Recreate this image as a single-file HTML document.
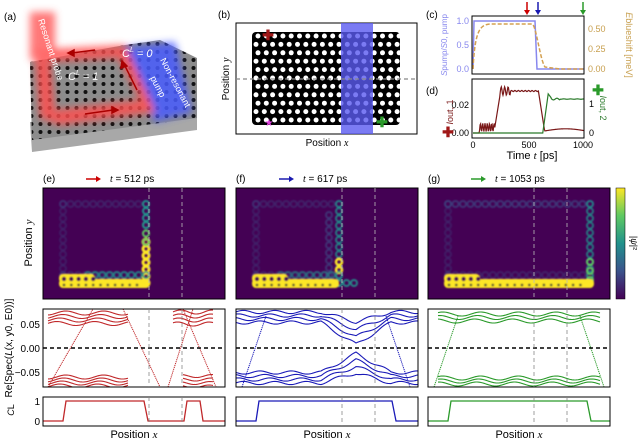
<!DOCTYPE html>
<html><head><meta charset="utf-8"><style>
html,body{margin:0;padding:0;background:#fff;}
svg{display:block;font-family:"Liberation Sans",sans-serif;}
</style></head><body>
<svg id="s" width="640" height="443" viewBox="0 0 640 443" xmlns="http://www.w3.org/2000/svg">
<defs>
<filter id="bl" x="-30%" y="-30%" width="160%" height="160%"><feGaussianBlur stdDeviation="4"/></filter>
<filter id="hb"><feGaussianBlur stdDeviation="0.7"/></filter>
<linearGradient id="cb" x1="0" y1="1" x2="0" y2="0">
<stop offset="0" stop-color="#440154"/><stop offset="0.25" stop-color="#3b528b"/><stop offset="0.5" stop-color="#21918c"/><stop offset="0.75" stop-color="#5ec962"/><stop offset="1" stop-color="#fde725"/></linearGradient>
<pattern id="hx" width="9" height="8" patternUnits="userSpaceOnUse"><circle cx="4.5" cy="4" r="2" fill="#111"/></pattern>
</defs>

<!-- (a) -->
<text x="4" y="20" font-size="10">(a)</text>
<polygon points="30,122 197,108 197,130 32,152" fill="#a8a8a8"/>
<polygon points="30,62 125,45 160,40 197,58 197,118 32,140" fill="#8c8c8c"/>
<polygon points="30,62 125,45 160,40 197,58 197,118 32,140" fill="url(#hx)"/>
<g filter="url(#bl)" opacity="0.85">
<polygon points="120,48 175,42 192,112 155,122" fill="#4a5cff"/>
<rect x="30" y="12" width="25" height="48" fill="#ff6060"/>
<polygon points="30,50 125,45 155,112 60,125 40,118 35,60 50,60 55,110 140,100 118,58 48,62" fill="#ff5050"/>
</g>
<text x="0" y="0" font-size="9" fill="#fff" transform="translate(38,20) rotate(72)">Resonant probe</text>
<text x="0" y="0" font-size="9" fill="#fff" transform="translate(160,60) rotate(62)">Non-resonant</text>
<text x="0" y="0" font-size="9" fill="#fff" transform="translate(150,78) rotate(62)">pump</text>
<text x="68" y="80" font-size="11" fill="#fff" font-style="italic">C<tspan font-size="7" dy="-5">L</tspan><tspan dy="5"> = 1</tspan></text>
<text x="122" y="57" font-size="11" fill="#fff" font-style="italic">C<tspan font-size="7" dy="-5">L</tspan><tspan dy="5"> = 0</tspan></text>
<g stroke="#a00" stroke-width="1.5" fill="#a00">
<line x1="95" y1="50" x2="72" y2="53"/><polygon points="68,53 74,50 74,56"/>
<line x1="85" y1="114" x2="113" y2="110"/><polygon points="118,110 112,107 112,113"/>
<line x1="137" y1="90" x2="125" y2="66"/><polygon points="122,61 121,68 127,66"/>
</g>

<!-- (b) -->
<text x="218" y="18" font-size="10">(b)</text>
<rect x="236" y="23" width="181" height="111" fill="#fff" stroke="#000" stroke-width="1"/>
<rect x="252" y="32" width="148" height="93" rx="4" fill="#000"/>
<g id="bdots"></g>
<rect x="341" y="23" width="32" height="111" fill="#5a5af0" opacity="0.8"/>
<line x1="236" y1="79" x2="417" y2="79" stroke="#888" stroke-width="1.3" stroke-dasharray="4,3"/>
<text x="268" y="40" font-size="14" fill="#a01818" text-anchor="middle" font-weight="bold">✚</text>
<text x="382" y="127" font-size="14" fill="#2a9a2a" text-anchor="middle" font-weight="bold">✚</text>
<text x="269" y="126" font-size="10" fill="#e040e0" text-anchor="middle">★</text>
<text x="327" y="146" font-size="10" text-anchor="middle">Position <tspan font-style="italic" font-family="Liberation Serif">x</tspan></text>
<text x="0" y="0" font-size="10" text-anchor="middle" transform="translate(229,79) rotate(-90)">Position <tspan font-style="italic" font-family="Liberation Serif">y</tspan></text>

<!-- (c) -->
<text x="426" y="18" font-size="10">(c)</text>
<g stroke-width="1.5">
<line x1="527" y1="2" x2="527" y2="11" stroke="#c00"/><polygon points="524,10 530,10 527,15" fill="#c00"/>
<line x1="538" y1="2" x2="538" y2="11" stroke="#1a1ab0"/><polygon points="535,10 541,10 538,15" fill="#1a1ab0"/>
<line x1="583" y1="2" x2="583" y2="11" stroke="#2a9a2a"/><polygon points="580,10 586,10 583,15" fill="#2a9a2a"/>
</g>
<polyline points="473,69 474,21 535,21 537,69 584,69" fill="none" stroke="#8888ee" stroke-width="1.5"/>
<path d="M473,69 C475,30 480,25 490,24 L532,24 C536,24 540,60 545,67 L560,69 L584,69" fill="none" stroke="#d4a050" stroke-width="1.5" stroke-dasharray="4,2"/>
<rect x="472" y="16" width="112" height="58" fill="none" stroke="#000"/>
<g font-size="9" fill="#8888ee" text-anchor="end"><text x="469" y="24">1.0</text><text x="469" y="48">0.5</text><text x="469" y="72">0.0</text></g>
<g font-size="9" fill="#c8a050"><text x="588" y="32">0.50</text><text x="588" y="52">0.25</text><text x="588" y="72">0.00</text></g>
<text x="0" y="0" font-size="8" fill="#8888ee" text-anchor="middle" transform="translate(447,45) rotate(-90)"><tspan font-style="italic">S</tspan>pump/<tspan font-style="italic">S</tspan>0, pump</text>
<text x="0" y="0" font-size="9" fill="#c8a050" text-anchor="middle" transform="translate(626,45) rotate(90)"><tspan font-style="italic">E</tspan>blueshift [meV]</text>

<!-- (d) -->
<text x="426" y="94" font-size="10">(d)</text>
<polyline id="d1" fill="none" stroke="#7a1818" stroke-width="1.2" points=""/>
<polyline id="d2" fill="none" stroke="#2a7a2a" stroke-width="1.2" points=""/>
<rect x="472" y="79" width="112" height="59" fill="none" stroke="#000"/>
<g font-size="9" text-anchor="end"><text x="469" y="108">0.02</text><text x="469" y="136">0.00</text></g>
<g font-size="9"><text x="589" y="107">1</text><text x="589" y="136">0</text></g>
<g font-size="9" text-anchor="middle"><text x="473" y="148">0</text><text x="529" y="148">500</text><text x="583" y="148">1000</text></g>
<text x="532" y="159" font-size="11" text-anchor="middle">Time <tspan font-style="italic" font-family="Liberation Serif">t</tspan> [ps]</text>
<text x="0" y="0" font-size="9" fill="#7a1818" text-anchor="middle" transform="translate(453,112) rotate(-90)"><tspan font-style="italic">I</tspan>out, 1</text>
<text x="0" y="0" font-size="9" fill="#2a7a2a" text-anchor="middle" transform="translate(600,108) rotate(90)"><tspan font-style="italic">I</tspan>out, 2</text>
<text x="448" y="137" font-size="14" fill="#a01818" text-anchor="middle" font-weight="bold">✚</text>
<text x="598" y="95" font-size="14" fill="#2a9a2a" text-anchor="middle" font-weight="bold">✚</text>

<!-- bottom titles -->
<g font-size="10">
<text x="43" y="182">(e)</text><text x="236" y="182">(f)</text><text x="428" y="182">(g)</text>
<text x="110" y="182"><tspan font-style="italic" font-family="Liberation Serif">t</tspan> = 512 ps</text>
<text x="303" y="182"><tspan font-style="italic" font-family="Liberation Serif">t</tspan> = 617 ps</text>
<text x="495" y="182"><tspan font-style="italic" font-family="Liberation Serif">t</tspan> = 1053 ps</text>
</g>
<g stroke-width="1.5">
<line x1="86" y1="179" x2="96" y2="179" stroke="#c00"/><polygon points="96,176 101,179 96,182" fill="#c00"/>
<line x1="279" y1="179" x2="289" y2="179" stroke="#1a1ab0"/><polygon points="289,176 294,179 289,182" fill="#1a1ab0"/>
<line x1="471" y1="179" x2="481" y2="179" stroke="#2a9a2a"/><polygon points="481,176 486,179 481,182" fill="#2a9a2a"/>
</g>
<g id="panels"></g>
<rect x="616" y="188" width="9" height="111" fill="url(#cb)" stroke="#000" stroke-width="0.5"/>
<text x="0" y="0" font-size="9" text-anchor="middle" transform="translate(631,243) rotate(90)">|<tspan font-style="italic">ψ</tspan>|²</text>
<text x="0" y="0" font-size="11" text-anchor="middle" transform="translate(32,243) rotate(-90)">Position <tspan font-style="italic" font-family="Liberation Serif">y</tspan></text>
<text x="0" y="0" font-size="10" text-anchor="middle" transform="translate(12,348) rotate(-90)">Re[Spec(<tspan font-style="italic">L</tspan>(x, y0, E0))]</text>
<text x="0" y="0" font-size="9" text-anchor="middle" transform="translate(14,410) rotate(-90)"><tspan font-style="italic">C</tspan>L</text>
<g font-size="10" text-anchor="end"><text x="40" y="328">0.05</text><text x="40" y="352">0.00</text><text x="40" y="376">−0.05</text><text x="40" y="405">1</text><text x="40" y="425">0</text></g>
<g font-size="11" text-anchor="middle">
<text x="134" y="438">Position <tspan font-style="italic" font-family="Liberation Serif">x</tspan></text>
<text x="327" y="438">Position <tspan font-style="italic" font-family="Liberation Serif">x</tspan></text>
<text x="519" y="438">Position <tspan font-style="italic" font-family="Liberation Serif">x</tspan></text>
</g>
</svg>
<script>
var NS="http://www.w3.org/2000/svg";
function el(p,t,a){var e=document.createElementNS(NS,t);for(var k in a)e.setAttribute(k,a[k]);p.appendChild(e);return e;}
var bd=document.getElementById("bdots");
for(var r=0;r<11;r++)for(var c=0;c<18;c++){el(bd,"circle",{cx:256+c*8.3+(r%2?0:2),cy:36+r*8.4,r:2.5,fill:"#fff"});}
var p1=[],p2=[];
function X(t){return 473+t*0.109;}
for(var t=0;t<=1020;t+=5){var v;
 if(t<60)v=0;else if(t<200)v=0.004+0.003*Math.sin(t*0.3);else if(t<250)v=0.004+(t-200)/50*0.024;else if(t<600)v=0.030+0.002*Math.sin(t*0.2)*(t<350?1.5:0.2);else if(t<660)v=0.030-(t-600)/60*0.030;else v=0.0015*Math.sin((t-660)/120)+0.0015;
 p1.push(X(t)+","+(133-v/0.02*28));
 var w;if(t<640)w=0;else if(t<690)w=(t-640)/50*1.35;else if(t<720)w=1.35-(t-690)/30*0.15;else w=1.17+0.03*Math.sin(t*0.1)*(t<800?1:0.2);
 p2.push(X(t)+","+(133-w*29));}
document.getElementById("d1").setAttribute("points",p1.join(" "));
document.getElementById("d2").setAttribute("points",p2.join(" "));
var P=document.getElementById("panels");
var cols=["#c0282a","#1a1ab8","#2a9a2a"];
var offs=[43,236,428];
function chain(g,x1,y1,x2,y2,col,op,w){var L=Math.hypot(x2-x1,y2-y1),n=Math.max(1,Math.round(L/7.3));
 for(var i=0;i<=n;i++){var x=x1+(x2-x1)*i/n,y=y1+(y2-y1)*i/n;el(g,"circle",{cx:x,cy:y,r:3,fill:"none",stroke:col,"stroke-width":w||2,opacity:op});}}
function wave(g,x1,x2,yb,amp,per,ph,col,sw){var pts=[];for(var x=x1;x<=x2;x+=1){pts.push(x+","+(yb+amp*Math.sin((x+ph)/per)));}el(g,"polyline",{points:pts.join(" "),fill:"none",stroke:col,"stroke-width":sw||1.1});}
for(var k=0;k<3;k++){
 var o=offs[k],col=cols[k];var g=el(P,"g",{});
 el(g,"rect",{x:o,y:188,width:182,height:111,fill:"#440154"});
 var hg=el(g,"g",{filter:"url(#hb)"});
 var rx=[146,339-236+43,590-428+43][k]-43+o;
 var L=o+20;
 chain(hg,L,204,rx,204,"#3b528b",k==2?0.6:0.35);
 chain(hg,L,204,L,283,"#3b528b",0.3);
 chain(hg,L,275,rx,275,"#3b528b",0.35);
 if(k==0){chain(hg,rx,283,rx,242,"#fde725",1,3);chain(hg,rx,242,rx,225,"#5ec962",1);chain(hg,rx,225,rx,204,"#21918c",1);chain(hg,o+45,275,rx,275,"#21918c",0.8);}
 if(k==1){chain(hg,rx,283,rx,204,"#21918c",0.85);chain(hg,rx-10,283,rx-10,215,"#3b528b",0.6);chain(hg,rx,270,rx,262,"#fde725",1,2.5);chain(hg,rx,283,rx+15,283,"#21918c",0.9);chain(hg,o+45,275,rx,275,"#21918c",0.6);}
 if(k==2){chain(hg,rx,283,rx,204,"#21918c",0.8);chain(hg,rx,280,rx,262,"#5ec962",1);}
 el(hg,"rect",{x:L-4,y:279,width:(k==1?rx-L+4:rx-L+8),height:9,rx:4,fill:"#fde725"});
 el(hg,"rect",{x:L-4,y:274,width:36,height:9,rx:4,fill:"#fde725"});
 for(var i=0;i<5;i++)el(hg,"circle",{cx:L+1+i*7.3,cy:279,r:2.2,fill:"#440154"});
 for(var i=0;i<Math.floor((rx-L)/7.3);i++)el(hg,"circle",{cx:L+1+i*7.3,cy:285,r:1.4,fill:"#553"});
 el(g,"rect",{x:o,y:188,width:182,height:111,fill:"none",stroke:"#000"});
 var sg=el(g,"g",{});
 var clip="c"+k;var cp=el(g,"clipPath",{id:clip});el(cp,"rect",{x:o,y:309,width:182,height:78});
 sg.setAttribute("clip-path","url(#"+clip+")");
 if(k==0){
  for(var j=0;j<4;j++){wave(sg,o+5,o+85,313+j*3.5,2,6,j*3,col);wave(sg,o+130,o+170,312+j*4,2,5,j,col);wave(sg,o+5,o+85,377+j*3,2,6,j*2,col);wave(sg,o+140,o+170,376+j*3.5,1.5,5,j,col);}
  [[o+5,387,o+50,309],[o+80,309,o+117,387],[o+125,387,o+150,309],[o+140,309,o+173,387]].forEach(function(a){el(sg,"line",{x1:a[0],y1:a[1],x2:a[2],y2:a[3],stroke:col,"stroke-width":1,"stroke-dasharray":"1.2,0.8"});});
 }
 if(k==1){
  for(var j=0;j<4;j++){
   var pts=[];for(var x=o;x<=o+182;x++){var dx=x-(o+120);var d=Math.max(0,1-Math.abs(dx)/35);pts.push(x+","+(312+j*3.5+d*(10+j*4)+1.6*Math.sin(x/5+j)));}
   el(sg,"polyline",{points:pts.join(" "),fill:"none",stroke:col,"stroke-width":1.1});
   pts=[];for(var x=o;x<=o+182;x++){var dx=x-(o+120);var d=Math.max(0,1-Math.abs(dx)/35);pts.push(x+","+(383-j*3.5-d*(10+j*3)+1.6*Math.sin(x/5+j)));}
   el(sg,"polyline",{points:pts.join(" "),fill:"none",stroke:col,"stroke-width":1.1});}
  [[o+6,387,o+30,316],[o+150,316,o+174,387]].forEach(function(a){el(sg,"line",{x1:a[0],y1:a[1],x2:a[2],y2:a[3],stroke:col,"stroke-width":1,"stroke-dasharray":"1.2,0.8"});});
 }
 if(k==2){
  for(var j=0;j<3;j++){wave(sg,o+10,o+172,314+j*3.5,2,6,j*3,col);wave(sg,o+10,o+172,378+j*3,2,6,j*2,col);}
  [[o+6,387,o+30,316],[o+152,316,o+176,387]].forEach(function(a){el(sg,"line",{x1:a[0],y1:a[1],x2:a[2],y2:a[3],stroke:col,"stroke-width":1,"stroke-dasharray":"1.2,0.8"});});
 }
 el(g,"line",{x1:o,y1:348,x2:o+182,y2:348,stroke:"#000","stroke-width":1.4,"stroke-dasharray":"4,3"});
 el(g,"rect",{x:o,y:309,width:182,height:78,fill:"none",stroke:"#000"});
 var cpts;
 if(k==0)cpts=[[o,421],[o+20,421],[o+23,401],[o+101,401],[o+105,421],[o+141,421],[o+144,401],[o+157,401],[o+160,421],[o+182,421]];
 if(k==1)cpts=[[o,421],[o+20,421],[o+23,401],[o+156,401],[o+160,421],[o+182,421]];
 if(k==2)cpts=[[o,421],[o+20,421],[o+23,401],[o+159,401],[o+163,421],[o+182,421]];
 el(g,"polyline",{points:cpts.map(function(a){return a.join(",")}).join(" "),fill:"none",stroke:col,"stroke-width":1.3});
 el(g,"rect",{x:o,y:397,width:182,height:29,fill:"none",stroke:"#000"});
 [106,139].forEach(function(d){el(g,"line",{x1:o+d,y1:188,x2:o+d,y2:299,stroke:"#bbb","stroke-width":0.8,"stroke-dasharray":"4,3"});
  el(g,"line",{x1:o+d,y1:309,x2:o+d,y2:387,stroke:"#888","stroke-width":0.8,"stroke-dasharray":"4,3"});
  el(g,"line",{x1:o+d,y1:397,x2:o+d,y2:426,stroke:"#888","stroke-width":0.8,"stroke-dasharray":"4,3"});});
}
</script>
</body></html>
